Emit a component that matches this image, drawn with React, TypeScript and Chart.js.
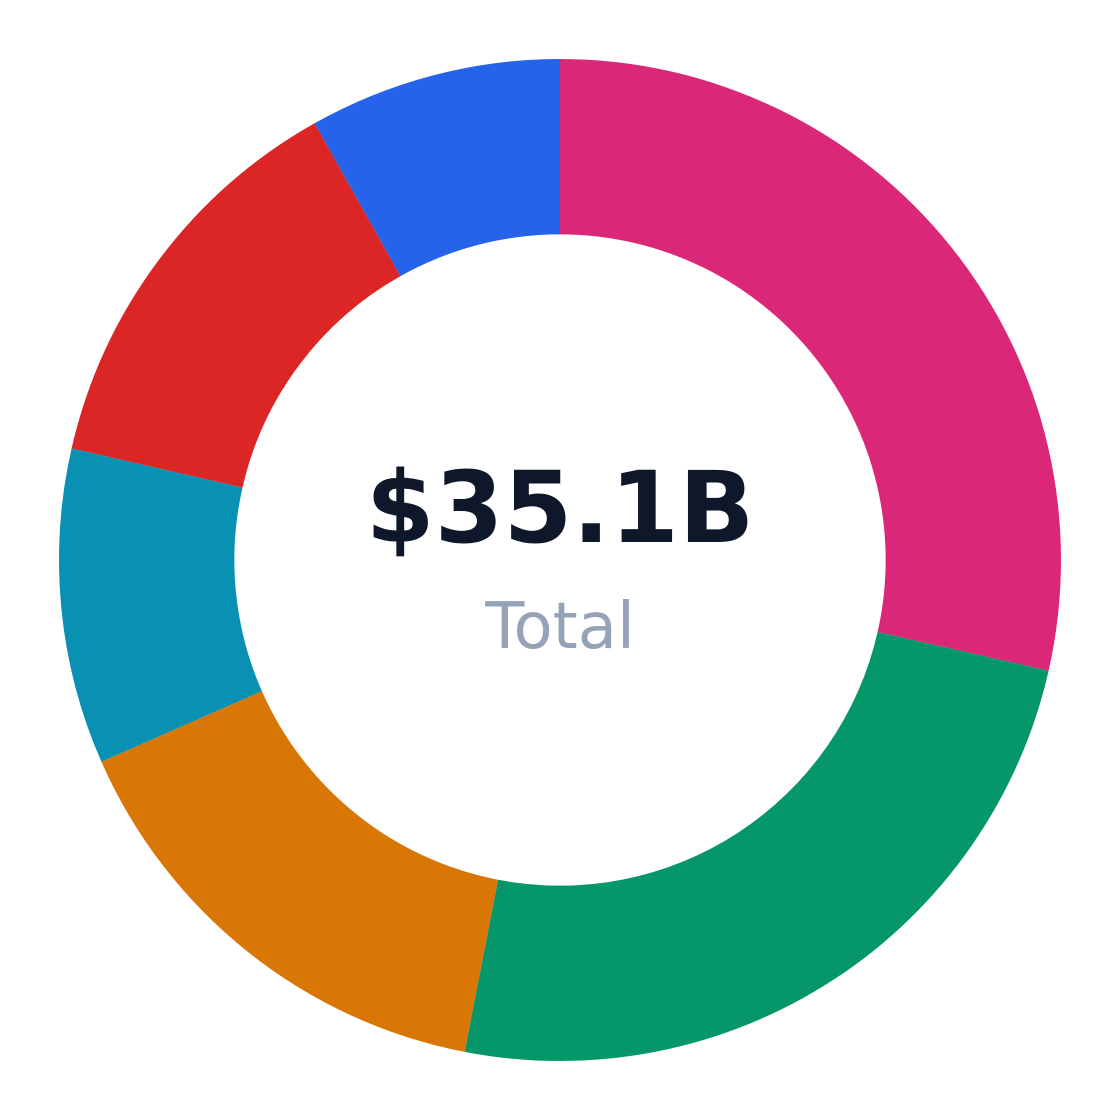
import React, { useEffect, useRef } from "react";
import { Chart, registerables } from "chart.js";
Chart.register(...registerables);

const segmentLabels = ["A", "B", "C", "D", "E", "F"];
const segmentValues = [10.02, 8.6, 5.39, 3.57, 4.66, 2.86];
const segmentColors = ["#db2777", "#059669", "#d97706", "#0891b2", "#dc2626", "#2563eb"];
const centerValue = "$35.1B";
const centerLabel = "Total";

const centerText = {
    id: "centerText",
    afterDraw(chart: Chart) {
        const { ctx, chartArea } = chart;
        const cx = (chartArea.left + chartArea.right) / 2;
        const cy = (chartArea.top + chartArea.bottom) / 2;
        ctx.save();
        ctx.textAlign = "center";
        ctx.textBaseline = "alphabetic";
        ctx.fillStyle = "#0f172a";
        ctx.font = "bold 99px 'DejaVu Sans'";
        ctx.fillText(centerValue, cx, cy - 18);
        ctx.fillStyle = "#94a3b8";
        ctx.font = "64px 'DejaVu Sans'";
        ctx.fillText(centerLabel, cx, cy + 88);
        ctx.restore();
    },
};

export default function App() {
    const canvasRef = useRef<HTMLCanvasElement | null>(null);

    useEffect(() => {
        document.body.style.margin = "0";
        if (!canvasRef.current) return;

        const chart = new Chart(canvasRef.current, {
            type: "doughnut",
            data: {
                labels: segmentLabels,
                datasets: [
                    {
                        data: segmentValues,
                        backgroundColor: segmentColors,
                        borderWidth: 0,
                    },
                ],
            },
            options: {
                responsive: false,
                animation: false,
                devicePixelRatio: 2,
                cutout: "65%",
                layout: { padding: 59 },
                plugins: {
                    legend: { display: false },
                    tooltip: { enabled: false },
                },
            },
            plugins: [centerText],
        });

        return () => chart.destroy();
    }, []);

    return (
        <div style={{ width: 1120, height: 1120 }}>
            <canvas ref={canvasRef} width={1120} height={1120} />
        </div>
    );
}
